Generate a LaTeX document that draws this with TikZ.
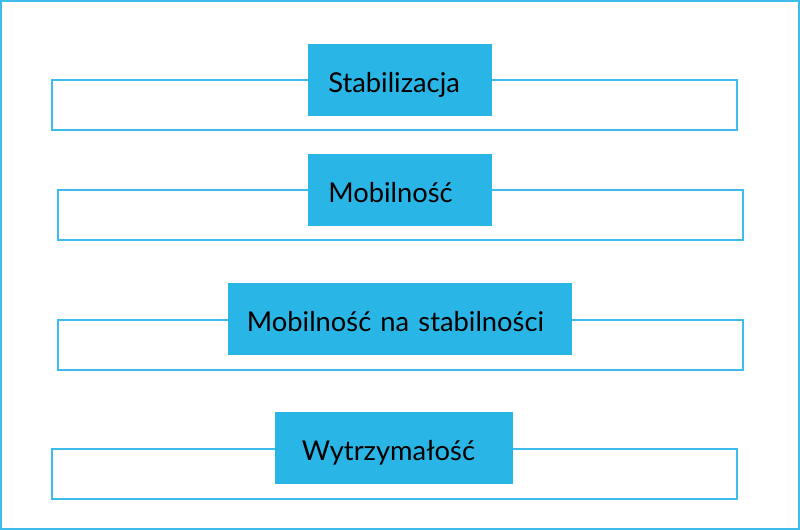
\documentclass[tikz,border=0pt]{standalone}
\usepackage{fontspec}
\setmainfont{Lato}
\usetikzlibrary{positioning}
\definecolor{cyanbox}{HTML}{29B5E5}
\definecolor{cyanline}{HTML}{3DBBEA}

\begin{document}
\begin{tikzpicture}[x=0.75pt, y=-0.75pt,
    frame/.style={draw=cyanline, line width=1.5pt},
    band/.style={draw=cyanline, line width=1.1pt},
    tag/.style={fill=cyanbox, anchor=north west, minimum height=54pt,
        inner ysep=0pt, text height=20pt, text depth=2pt,
        align=left, font=\fontsize{20.5}{22}\selectfont}]
    \useasboundingbox (0,0) rectangle (800,530);
    % Ramka
    \draw[frame] (1,1) rectangle (799,529);

    % Pasy
    \draw[band] (52,80) rectangle (737,130);
    \draw[band] (58,190) rectangle (743,240);
    \draw[band] (58,320) rectangle (743,370);
    \draw[band] (52,449) rectangle (737,499);

    % Etykiety
    \node[tag, inner xsep=15pt, text width=108pt] (stab) at (308,44) {Stabilizacja};
    \node[tag, inner xsep=15pt, text width=108pt] (mob) at (308,154) {Mobilność};
    \node[tag, inner xsep=14pt, text width=230pt] (mobstab) at (228,283) {Mobilność na stabilności};
    \node[tag, inner xsep=20pt, text width=138.5pt] (wytrz) at (275,412) {Wytrzymałość};
\end{tikzpicture}
\end{document}
